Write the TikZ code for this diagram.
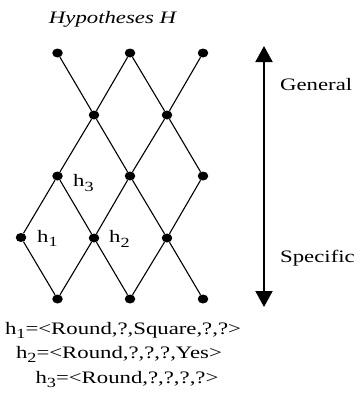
\documentclass[tikz,border=0pt]{standalone}
\usepackage{fontspec}
\setmainfont{Liberation Serif}[FakeStretch=1.3]
\usetikzlibrary{arrows.meta,shapes.geometric}
\newcommand{\subdig}[1]{\raisebox{-4.7pt}{\fontsize{14}{14}\selectfont #1}}
\begin{document}
\begin{tikzpicture}[x=1pt,y=-1pt,
  dot/.style={ellipse,fill=black,inner sep=0pt,minimum width=10.5pt,minimum height=9pt},
  edge/.style={line width=1.1pt},
  txt/.style={inner sep=0pt,font=\fontsize{17.5}{20}\selectfont},
  lbl/.style={inner sep=0pt,font=\fontsize{17.5}{20}\selectfont,anchor=base west}]
\useasboundingbox (0,0) rectangle (360,405);
% dots
\node[dot] (a1) at (57.5,53) {};
\node[dot] (a2) at (130,53) {};
\node[dot] (a3) at (203,53) {};
\node[dot] (b1) at (94,115) {};
\node[dot] (b2) at (167,115) {};
\node[dot] (c1) at (57.5,176) {};
\node[dot] (c2) at (130,176) {};
\node[dot] (c3) at (203,176) {};
\node[dot] (d1) at (21,237.5) {};
\node[dot] (d2) at (94,238) {};
\node[dot] (d3) at (167,238) {};
\node[dot] (e1) at (57.5,299) {};
\node[dot] (e2) at (130,299) {};
\node[dot] (e3) at (203,299) {};
% edges
\draw[edge] (a1) -- (b1);
\draw[edge] (a2) -- (b1);
\draw[edge] (a2) -- (b2);
\draw[edge] (a3) -- (b2);
\draw[edge] (b1) -- (c1);
\draw[edge] (b1) -- (c2);
\draw[edge] (b2) -- (c2);
\draw[edge] (b2) -- (c3);
\draw[edge] (c1) -- (d1);
\draw[edge] (c1) -- (d2);
\draw[edge] (c2) -- (d2);
\draw[edge] (c2) -- (d3);
\draw[edge] (c3) -- (d3);
\draw[edge] (d1) -- (e1);
\draw[edge] (d2) -- (e1);
\draw[edge] (d2) -- (e2);
\draw[edge] (d3) -- (e2);
\draw[edge] (d3) -- (e3);
% labels
\node[lbl] (l3) at (73,186.5) {h\subdig{3}};
\node[lbl] (l1) at (37,242) {h\subdig{1}};
\node[lbl] (l2) at (109,242.5) {h\subdig{2}};
% title
\node[txt,anchor=base] (title) at (113,23) {\textit{Hypotheses H}};
% arrow
\coordinate (top) at (264,46);
\coordinate (bot) at (264,307);
\draw[line width=2pt,{Triangle[length=16pt,width=17pt]}-{Triangle[length=16pt,width=17pt]}] (top) -- (bot);
\node[lbl] (gen) at (280,90) {General};
\node[lbl] (spec) at (280,262) {Specific};
% hypotheses
\node[txt,anchor=base] (h1) at (123,334) {h\subdig{1}=<Round,?,Square,?,?>};
\node[txt,anchor=base] (h2) at (119,358) {h\subdig{2}=<Round,?,?,?,Yes>};
\node[txt,anchor=base] (h3) at (127,383) {h\subdig{3}=<Round,?,?,?,?>};
\end{tikzpicture}
\end{document}
